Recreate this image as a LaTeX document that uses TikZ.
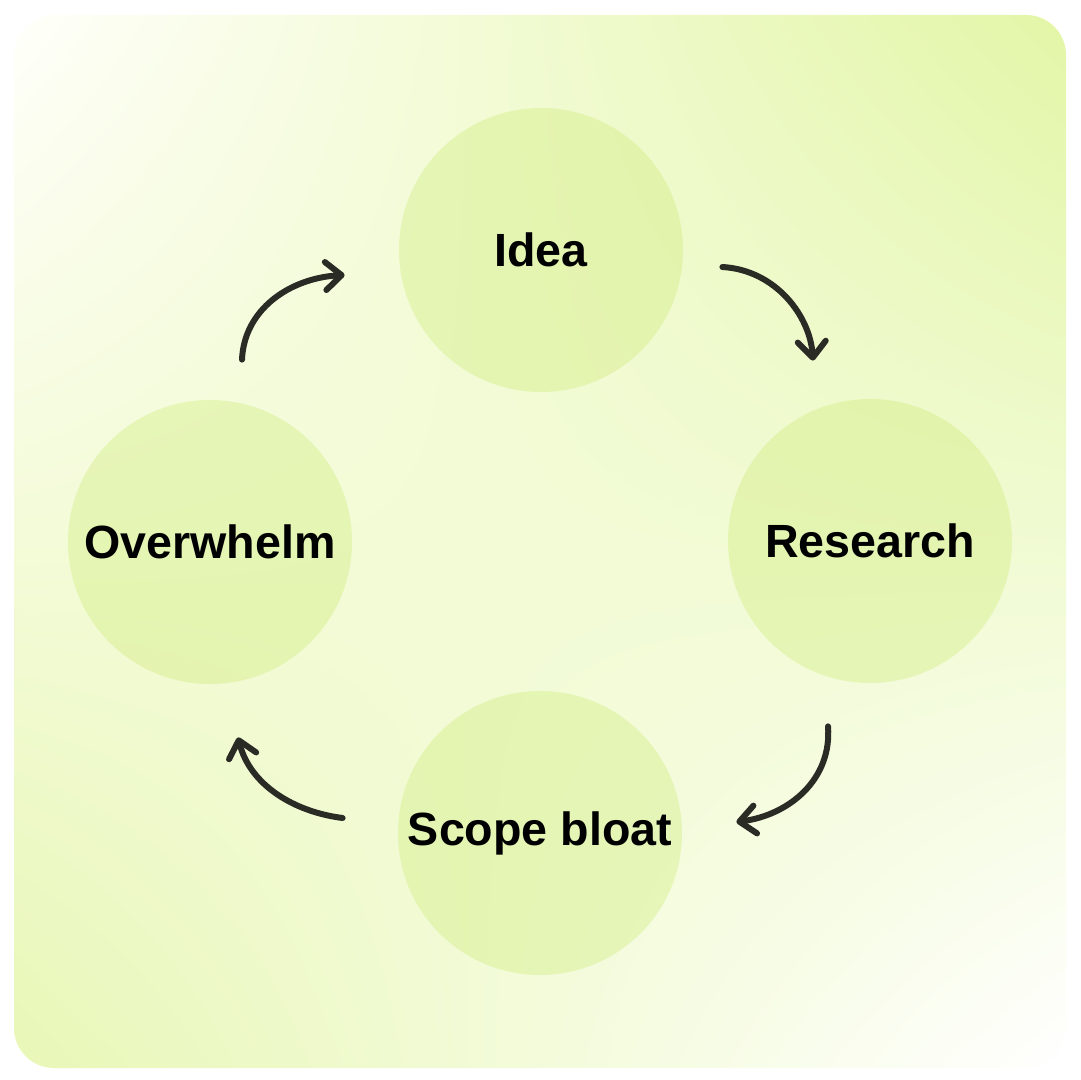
\documentclass[tikz,border=0pt]{standalone}
\usepackage{fontspec}
\setmainfont{Liberation Sans}
\usetikzlibrary{arrows.meta,shadings}
\definecolor{bgGreen}{RGB}{226,246,166}
\definecolor{bgSoft}{RGB}{232,247,182}
\definecolor{bgLight}{RGB}{255,255,250}
\definecolor{stageFill}{RGB}{205,236,118}
\definecolor{inkDark}{RGB}{43,43,38}
\tikzset{
	stage/.style={circle, minimum size=142pt, inner sep=0pt, fill=stageFill, fill opacity=0.36, text opacity=1, text=black, font=\bfseries\fontsize{23.3}{28}\selectfont},
	cyclearrow/.style={draw=inkDark, line width=3pt, line cap=round, -{Straight Barb[length=8pt, width=14pt, line cap=round, line join=round]}}
}
\begin{document}
\begin{tikzpicture}[x=0.5pt,y=-0.5pt]
	\useasboundingbox (0,0) rectangle (1080,1080);
	\shade[rounded corners=20pt, upper left=bgLight, upper right=bgGreen, lower left=bgSoft, lower right=white] (14,15) rectangle (1066,1068);
	\node[stage] (Idea) at (541,250) {Idea};
	\node[stage] (Research) at (870,541) {Research};
	\node[stage] (Scope) at (540,833) {Scope bloat};
	\node[stage] (Overwhelm) at (210,542) {Overwhelm};
	\node[shape=coordinate] at ([xshift=19.5pt,yshift=-8.5pt]Idea.east) (A1) {};
	\node[shape=coordinate] at ([xshift=-28.5pt,yshift=19pt]Research.north) (B1) {};
	\node[shape=coordinate] at ([xshift=-21pt,yshift=-21.5pt]Research.south) (A2) {};
	\node[shape=coordinate] at ([xshift=27pt,yshift=5.5pt]Scope.east) (B2) {};
	\node[shape=coordinate] at ([xshift=-27.5pt,yshift=7.5pt]Scope.west) (A3) {};
	\node[shape=coordinate] at ([xshift=14pt,yshift=-26.5pt]Overwhelm.south) (B3) {};
	\node[shape=coordinate] at ([xshift=16pt,yshift=20pt]Overwhelm.north) (A4) {};
	\node[shape=coordinate] at ([xshift=-27pt,yshift=-12.5pt]Idea.west) (B4) {};
	\draw[cyclearrow] (A1) .. controls ([xshift=26.5pt,yshift=-1.5pt]A1) and ([xshift=-1.5pt,yshift=22.5pt]B1) .. (B1);
	\draw[cyclearrow] (A2) .. controls ([xshift=2pt,yshift=-26.5pt]A2) and ([xshift=26.5pt,yshift=3.5pt]B2) .. (B2);
	\draw[cyclearrow] (A3) .. controls ([xshift=-24pt,yshift=3pt]A3) and ([xshift=6pt,yshift=-24pt]B3) .. (B3);
	\draw[cyclearrow] (A4) .. controls ([xshift=1pt,yshift=25pt]A4) and ([xshift=-27.5pt,yshift=-1.5pt]B4) .. (B4);
\end{tikzpicture}
\end{document}
